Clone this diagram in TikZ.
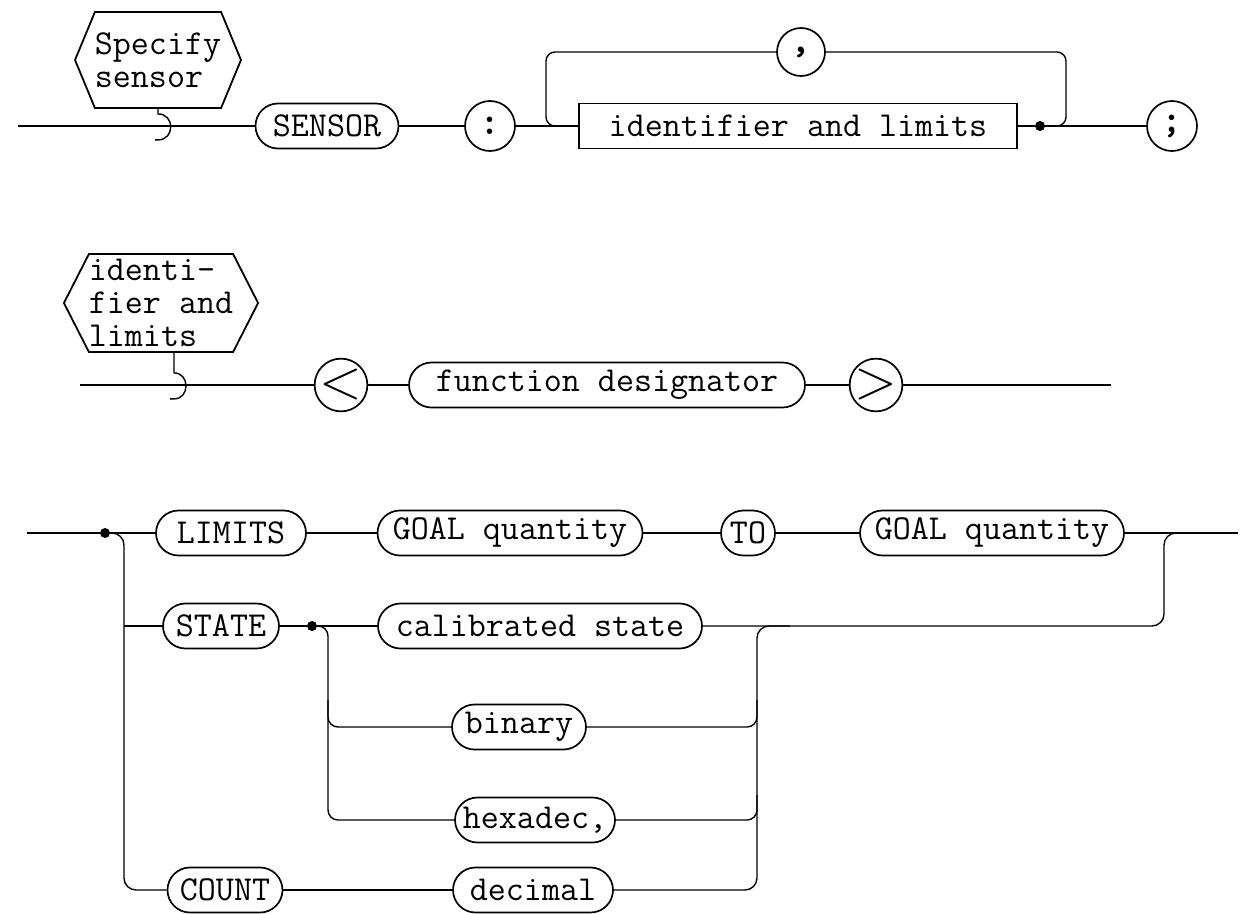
\documentclass[tikz,border=0pt]{standalone}
\usepackage{fontspec}
\usetikzlibrary{shapes.misc,shapes.symbols,calc}
\begin{document}
\begin{tikzpicture}[x=1pt,y=-1pt,
  every node/.style={font=\ttfamily\fontsize{35}{33}\selectfont},
  ln/.style={line width=1.4pt},
  pill/.style={draw, line width=1.7pt, rounded rectangle, minimum height=45pt, inner xsep=0pt, inner ysep=0pt},
  sqbox/.style={draw, line width=1.7pt, rectangle, minimum height=45pt, inner sep=0pt},
  circ/.style={draw, line width=1.7pt, circle, minimum size=50pt, inner sep=0pt},
  hexnode/.style={draw, line width=1.8pt, signal, signal to=east and west, align=left, inner sep=0pt},
  junc/.style={fill, circle, inner sep=0pt, minimum size=10pt},
  bigglyph/.style={font=\rmfamily\fontsize{56}{56}\selectfont},
  punct/.style={font=\ttfamily\bfseries\fontsize{40}{40}\selectfont},
]
\fill[white] (0,0) rectangle (1241,913);
\useasboundingbox (0,0) rectangle (1241,913);

% ---------- Row 1 ----------
\node[hexnode, minimum width=161pt, minimum height=96pt, signal pointer angle=135] (hexA) at (158,60) {Specify\\sensor};
\coordinate (s1) at (18,126);
\node[pill, minimum width=143pt] (sensor) at (327,126) {SENSOR};
\node[circ, punct] (colon) at (490,126) {:};
\node[sqbox, minimum width=438pt] (idl) at (798,126) {identifier and limits};
\node[junc] (d1) at (1040,126) {};
\node[circ, punct] (semi) at (1172,126) {;};
\node[circ, punct, minimum size=48pt] (comma) at (801,52) {,};

\draw[ln] (s1) -- (sensor.west);
\draw[ln] (hexA.south) -- ++(0,5) .. controls +(17,0) and +(17,0) .. ++(0,26) -- ++(-3,0);
\draw[ln] (sensor.east) -- (colon.west);
\draw[ln] (colon.east) -- (idl.west);
\draw[ln] (idl.east) -- (d1) -- (semi.west);
\draw[ln, rounded corners=9pt] (d1.center) -- (1066,126) -- (1066,52) -- (comma.east);
\draw[ln, rounded corners=9pt] (comma.west) -- (546,52) -- (546,126) -- (idl.west);

% ---------- Row 2 ----------
\node[hexnode, minimum width=186pt, minimum height=98pt, signal pointer angle=126] (hexB) at (161,303) {identi-\\fier and\\limits};
\coordinate (s2) at (80,385);
\node[circ, bigglyph] (lt) at (341,385) {<};
\node[pill, minimum width=396pt] (fd) at (607,385) {function designator};
\node[circ, bigglyph] (gt) at (876,385) {>};
\coordinate (e2) at (1111,385);

\draw[ln] (s2) -- (lt.west);
\draw[ln] ($(hexB.south)+(13,0)$) -- ++(0,20) .. controls +(16,0) and +(16,0) .. ++(0,26) -- ++(-4,0);
\draw[ln] (lt.east) -- (fd.west);
\draw[ln] (fd.east) -- (gt.west);
\draw[ln] (gt.east) -- (e2);

% ---------- Row 3 ----------
\coordinate (s3) at (27,533);
\node[junc] (d3) at (105,533) {};
\node[pill, minimum width=150pt] (limits) at (231,533) {LIMITS};
\node[pill, minimum width=265pt] (goal1) at (510,533) {GOAL quantity};
\node[pill, minimum width=54pt] (to) at (748,533) {TO};
\node[pill, minimum width=264pt] (goal2) at (992,533) {GOAL quantity};
\coordinate (e3) at (1238,533);

\node[pill, minimum width=116pt] (state) at (221,626) {STATE};
\node[junc] (d4) at (312,626) {};
\node[pill, minimum width=324pt] (cal) at (540,626) {calibrated state};
\node[pill, minimum width=134pt] (binary) at (519,727) {binary};
\node[pill, minimum width=160pt] (hexa) at (535,820) {hexadec,};
\node[pill, minimum width=115pt] (count) at (225,890) {COUNT};
\node[pill, minimum width=160pt] (decimal) at (533,890) {decimal};

\draw[ln] (s3) -- (d3) -- (limits.west);
\draw[ln] (limits.east) -- (goal1.west);
\draw[ln] (goal1.east) -- (to.west);
\draw[ln] (to.east) -- (goal2.west);
\draw[ln] (goal2.east) -- (e3);
\draw[ln, rounded corners=12pt] (d3.center) -- (124,533) -- (124,890) -- (count.west);
\draw[ln] (124,626) -- (state.west);
\draw[ln] (state.east) -- (d4) -- (cal.west);
\draw[ln, rounded corners=10pt] (d4.center) -- (328,626) -- (328,820) -- (hexa.west);
\draw[ln, rounded corners=10pt] (328,700) -- (328,727) -- (binary.west);
\draw[ln, rounded corners=12pt] (cal.east) -- (1164,626) -- (1164,533) -- (1190,533);
\draw[ln, rounded corners=12pt] (790,626) -- (757,626) -- (757,890) -- (decimal.east);
\draw[ln, rounded corners=10pt] (binary.east) -- (757,727) -- (757,700);
\draw[ln, rounded corners=10pt] (hexa.east) -- (757,820) -- (757,795);
\draw[ln] (count.east) -- (decimal.west);
\end{tikzpicture}
\end{document}
